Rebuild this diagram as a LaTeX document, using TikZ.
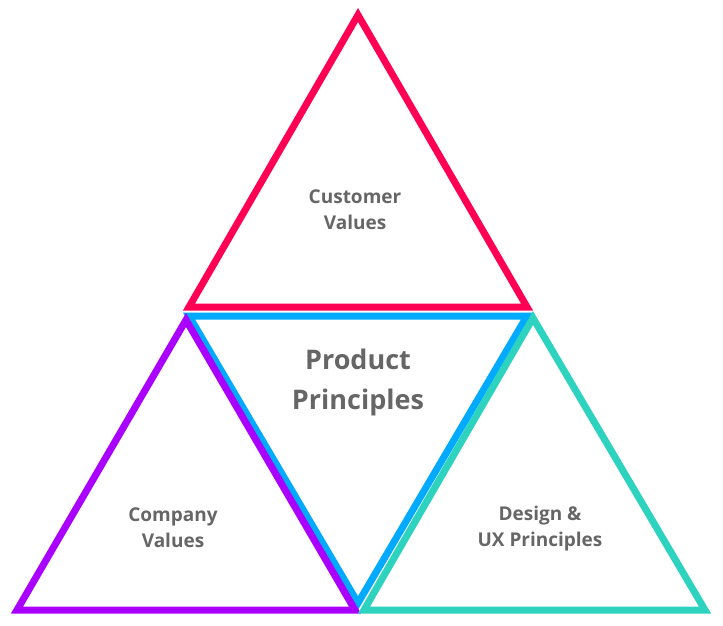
\documentclass[tikz,border=0pt]{standalone}
\usepackage{fontspec}
\setmainfont{Open Sans}
\definecolor{pinkc}{HTML}{FF0055}
\definecolor{bluec}{HTML}{00AAFF}
\definecolor{purplec}{HTML}{AA00FF}
\definecolor{tealc}{HTML}{2ED3C0}
\definecolor{txt}{HTML}{666666}
\begin{document}
\begin{tikzpicture}[x=1pt,y=-1pt,
  tri/.style={line width=7pt,line join=miter},
  lab/.style={text=txt,font=\bfseries\fontsize{19}{26}\selectfont,align=center},
  biglab/.style={text=txt,font=\bfseries\fontsize{27}{40}\selectfont,align=center}]
\useasboundingbox (0,0) rectangle (723,626);
\draw[tri,bluec] (189,316) -- (527,316) -- (358,603) -- cycle;
\draw[tri,pinkc] (358,15) -- (527,307) -- (189,307) -- cycle;
\draw[tri,purplec] (186,320) -- (355,610) -- (17,610) -- cycle;
\draw[tri,tealc] (533,318) -- (705,610) -- (364,610) -- cycle;
\node[lab] (cv) at (355,210) {Customer\\Values};
\node[biglab] (pp) at (358,382) {Product\\Principles};
\node[lab] (cov) at (173,528) {Company\\Values};
\node[lab] (dux) at (540,529) {Design \&\\UX Principles};
\end{tikzpicture}
\end{document}
